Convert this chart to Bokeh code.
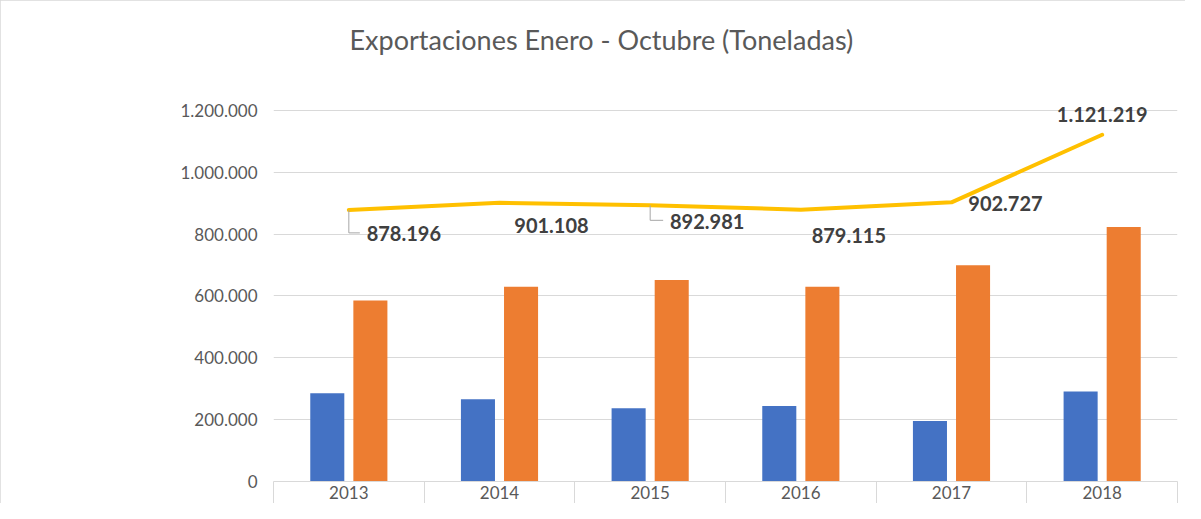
import numpy as np
from bokeh.plotting import figure
from bokeh.models import Range1d, FixedTicker, CustomJSTickFormatter
from bokeh.core.properties import value
from bokeh.embed import file_html
from bokeh.resources import INLINE

# ---------------- data ----------------
years = ["2013", "2014", "2015", "2016", "2017", "2018"]
serie_azul = [285000, 266000, 237000, 244000, 196000, 291000]
serie_naranja = [585000, 630000, 652000, 630000, 699000, 823000]
total = [878196, 901108, 892981, 879115, 902727, 1121219]
y_ticks = [0, 200000, 400000, 600000, 800000, 1000000, 1200000]
title_text = "Exportaciones Enero - Octubre (Toneladas)"

# ---------------- layout ----------------
W, H = 1185, 503
B_LEFT, B_RIGHT, B_TOP, B_BOTTOM = 273, 8, 78, 22
Y_END = 1300000
frame_h = H - B_TOP - B_BOTTOM
frame_w = W - B_LEFT - B_RIGHT
px_per_val = frame_h / Y_END
px_per_cat = frame_w / len(years)

FONT = "Lato"
GRID = "#D9D9D9"
TXT = "#595959"

# label offsets (px) relative to each line point
lab_dx = [55, 52, 57, 48, 54, 0]
lab_dy = [24, 23, 16, 26, 1, -20]
# leader lines (px): (index, down, right)
leaders = [(0, 23, 11), (2, 15, 13)]

p = figure(width=W, height=H, output_backend="svg", toolbar_location=None,
           x_range=Range1d(0, len(years)), y_range=Range1d(0, Y_END),
           min_border_left=B_LEFT, min_border_right=B_RIGHT,
           min_border_top=B_TOP, min_border_bottom=B_BOTTOM,
           background_fill_color="white", border_fill_color="white")
p.outline_line_color = None
p.styles = {"outline": "1px solid #D9D9D9", "outline-offset": "-1px"}

p.title.text = title_text
p.title.align = "left"
p.title.offset = 76
p.title.vertical_align = "top"
p.title.standoff = 44
p.title.text_font = FONT
p.title.text_font_size = "27px"
p.title.text_font_style = "normal"
p.title.text_color = TXT

idx = np.arange(len(years)) + 0.5
off = 0.143
bw = 0.226
p.vbar(x=idx - off, top=serie_azul, width=bw, color="#4472C4", line_color=None)
p.vbar(x=idx + off, top=serie_naranja, width=bw, color="#ED7D31", line_color=None)

p.line(idx, total, line_width=4, color="#FFC000", line_join="round", line_cap="round")

xs, ys = [], []
for i, down, right in leaders:
    x0 = idx[i]
    y0 = total[i]
    y1 = y0 - down / px_per_val
    x1 = x0 + right / px_per_cat
    xs.append([x0, x0, x1])
    ys.append([y0, y1, y1])
p.multi_line(xs, ys, line_color="#A6A6A6", line_width=1)

labels = [f"{v:,}".replace(",", ".") for v in total]
p.text(x=idx, y=total, text=labels, x_offset=lab_dx, y_offset=lab_dy,
       text_font=value(FONT), text_font_style="bold", text_font_size="20px",
       text_color="#404040", text_align="center", text_baseline="middle")

# x axis
xa = p.xaxis[0]
xa.ticker = FixedTicker(ticks=list(idx), minor_ticks=list(range(len(years) + 1)))
xa.formatter = CustomJSTickFormatter(args=dict(years=years),
                                     code="return years[Math.floor(tick)];")
xa.axis_line_color = GRID
xa.major_tick_line_color = None
xa.major_tick_out = 0
xa.major_tick_in = 0
xa.minor_tick_line_color = GRID
xa.minor_tick_out = 22
xa.minor_tick_in = 0
xa.major_label_standoff = -18
xa.major_label_text_font = FONT
xa.major_label_text_font_size = "17px"
xa.major_label_text_color = TXT

# y axis
ya = p.yaxis[0]
ya.ticker = FixedTicker(ticks=y_ticks)
ya.formatter = CustomJSTickFormatter(
    code="return tick.toFixed(0).replace(/\\B(?=(\\d{3})+(?!\\d))/g, '.');")
ya.axis_line_color = None
ya.major_tick_line_color = None
ya.minor_tick_line_color = None
ya.major_tick_out = 0
ya.major_label_standoff = 16
ya.major_label_text_font = FONT
ya.major_label_text_font_size = "17px"
ya.major_label_text_color = TXT

p.xgrid.grid_line_color = None
p.ygrid.grid_line_color = GRID
p.ygrid.grid_line_width = 1

open("out.html", "w").write(file_html(p, INLINE))
